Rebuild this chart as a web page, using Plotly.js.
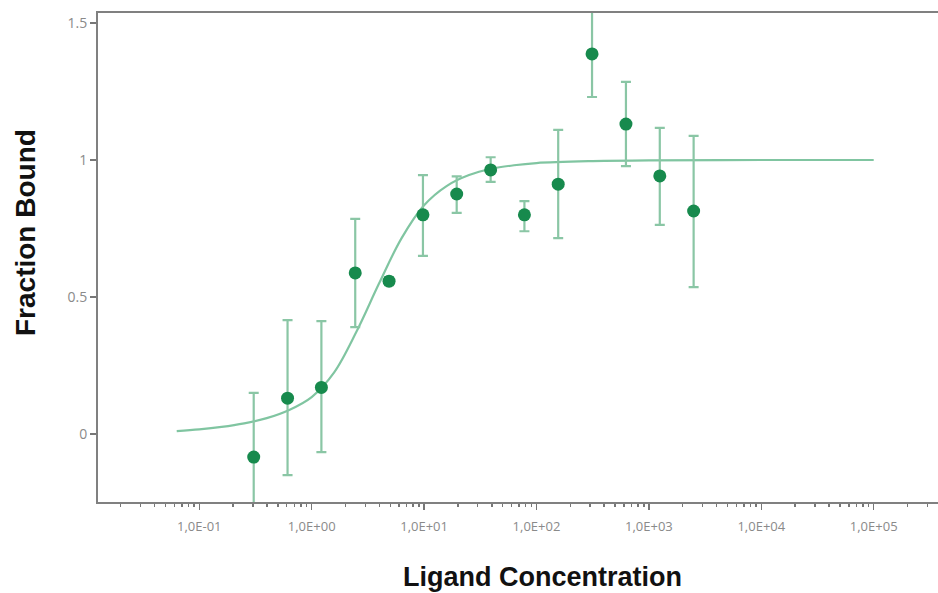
<!DOCTYPE html>
<html>
<head>
<meta charset="utf-8">
<script src="https://cdn.plot.ly/plotly-3.0.1.min.js"></script>
<style>html,body{margin:0;padding:0;background:#fff;}#chart{width:938px;height:593px;}</style>
</head>
<body>
<div id="chart"></div>
<script>
// Measured points (ligand concentration vs fraction bound)
const concentration = [0.305, 0.61, 1.22, 2.44, 4.88, 9.77, 19.5, 39.1, 78.1, 156, 312, 625, 1250, 2500];
const fractionBound = [-0.084, 0.131, 0.170, 0.588, 0.558, 0.800, 0.876, 0.964, 0.800, 0.912, 1.387, 1.131, 0.942, 0.814];
const errorPlus  = [0.234, 0.285, 0.242, 0.197, 0.015, 0.145, 0.064, 0.046, 0.050, 0.198, 0.157, 0.154, 0.175, 0.274];
const errorMinus = [0.234, 0.281, 0.236, 0.198, 0.015, 0.150, 0.069, 0.044, 0.060, 0.197, 0.157, 0.153, 0.179, 0.278];

// Fitted binding curve
const fitX = [0.063, 0.1, 0.158, 0.251, 0.398, 0.631, 1.0, 1.585, 2.512, 3.981, 6.31, 10, 15.85, 25.12, 39.81, 63.1, 100, 316, 1000, 10000, 100000];
const fitY = [0.011, 0.017, 0.026, 0.039, 0.058, 0.088, 0.135, 0.225, 0.375, 0.55, 0.715, 0.835, 0.905, 0.945, 0.968, 0.981, 0.989, 0.996, 0.999, 1.0, 1.0];

// Axis ticks
const xTickVals = [0.1, 1, 10, 100, 1000, 10000, 100000];
const xTickText = ["1,0E-01", "1,0E+00", "1,0E+01", "1,0E+02", "1,0E+03", "1,0E+04", "1,0E+05"];
const yTickVals = [0, 0.5, 1, 1.5];
const yTickText = ["0", "0.5", "1", "1.5"];

const traces = [
  {
    x: fitX, y: fitY, type: 'scatter', mode: 'lines',
    line: {color: '#80c5a1', width: 2.2, shape: 'spline', smoothing: 1},
    hoverinfo: 'skip', showlegend: false
  },
  {
    x: concentration, y: fractionBound, type: 'scatter', mode: 'markers',
    marker: {color: '#178a4d', size: 13},
    error_y: {type: 'data', symmetric: false, array: errorPlus, arrayminus: errorMinus,
              color: '#8ac6a5', thickness: 2.2, width: 5},
    showlegend: false
  }
];

const layout = {
  width: 938, height: 593,
  margin: {l: 98, r: 0, t: 13, b: 91, pad: 0},
  paper_bgcolor: '#ffffff', plot_bgcolor: '#ffffff',
  showlegend: false,
  xaxis: {
    type: 'log', range: [-1.901, 5.572],
    tickmode: 'array', tickvals: xTickVals, ticktext: xTickText,
    ticks: 'outside', ticklen: 6, tickwidth: 1.5, tickcolor: '#777',
    ticklabelstandoff: 5,
    minor: {ticks: 'outside', ticklen: 3, tickwidth: 1.5, tickcolor: '#777', dtick: 'D1', showgrid: false},
    showline: true, linecolor: '#808080', linewidth: 2, mirror: true,
    showgrid: false, zeroline: false,
    tickfont: {family: 'Open Sans, sans-serif', size: 13, color: '#8a8a8a'}
  },
  yaxis: {
    range: [-0.248, 1.5365],
    tickmode: 'array', tickvals: yTickVals, ticktext: yTickText,
    ticks: 'outside', ticklen: 6, tickwidth: 1.5, tickcolor: '#777',
    showline: true, linecolor: '#808080', linewidth: 2,
    showgrid: false, zeroline: false,
    tickfont: {family: 'Open Sans, sans-serif', size: 14, color: '#8a8a8a'}
  },
  annotations: [
    {text: '<b>Ligand Concentration</b>', xref: 'paper', yref: 'paper',
     x: 0.529, y: -0.153, xanchor: 'center', yanchor: 'middle', showarrow: false,
     font: {family: 'Liberation Sans, Arial, sans-serif', size: 27, color: '#111'}},
    {text: '<b>Fraction Bound</b>', xref: 'paper', yref: 'paper', textangle: -90,
     x: -0.087, y: 0.552, xanchor: 'center', yanchor: 'middle', showarrow: false,
     font: {family: 'Liberation Sans, Arial, sans-serif', size: 28, color: '#111'}}
  ]
};

Plotly.newPlot('chart', traces, layout, {staticPlot: true, displayModeBar: false});
</script>
</body>
</html>
